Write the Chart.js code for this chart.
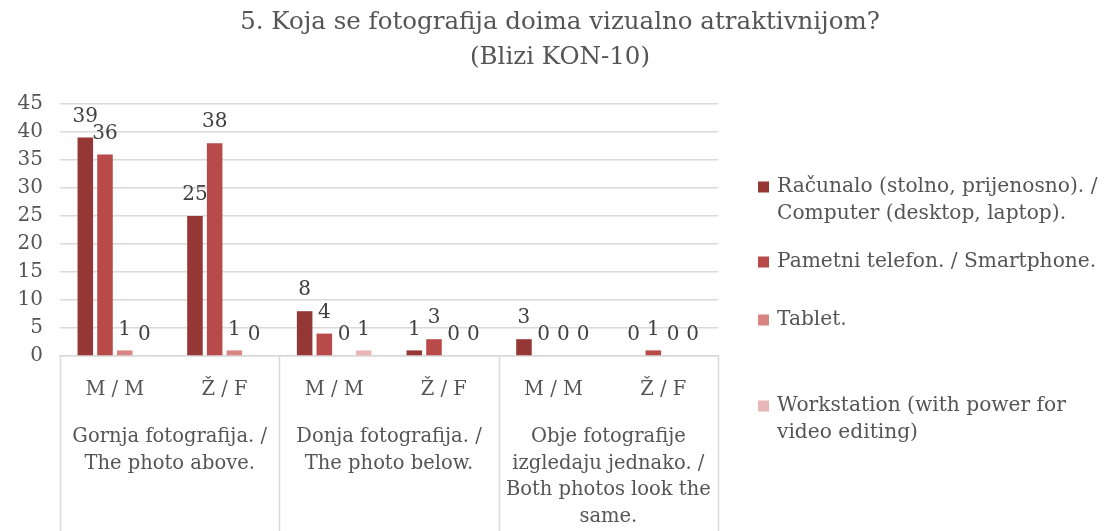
<!DOCTYPE html>
<html>
<head>
<meta charset="utf-8">
<script src="https://cdn.jsdelivr.net/npm/chart.js@4/dist/chart.umd.min.js"></script>
<style>
  html, body { margin: 0; padding: 0; background: #ffffff; }
  #wrap { width: 1105px; height: 531px; position: relative; }
</style>
</head>
<body>
<div id="wrap"><canvas id="c" width="1105" height="531"></canvas></div>
<script>
// Chart content
const titleLines = ['5. Koja se fotografija doima vizualno atraktivnijom?', '(Blizi KON-10)'];
const categories = ['M / M', 'Ž / F', 'M / M', 'Ž / F', 'M / M', 'Ž / F'];
const groupLabels = [
  ['Gornja fotografija. /', 'The photo above.'],
  ['Donja fotografija. /', 'The photo below.'],
  ['Obje fotografije', 'izgledaju jednako. /', 'Both photos look the', 'same.']
];
const seriesNames = [
  ['Računalo (stolno, prijenosno). /', 'Computer (desktop, laptop).'],
  ['Pametni telefon. / Smartphone.'],
  ['Tablet.'],
  ['Workstation (with power for', 'video editing)']
];
const computer    = [39, 25, 8, 1, 3, 0];
const smartphone  = [36, 38, 4, 3, 0, 1];
const tablet      = [1, 1, 0, 0, 0, 0];
const workstation = [0, 0, 1, 0, 0, 0];
const yMin = 0, yMax = 45, yStep = 5;

const FONT = '"DejaVu Serif", "Liberation Serif", serif';
const TEXT = '#555555';
const GRID = '#d9d9d9';
const colors = ['#953735', '#b84b4a', '#d88583', '#e8b6b6'];

// Title, value labels, grouped category labels and the side legend
const extras = {
  id: 'extras',
  afterDraw(chart) {
    const ctx = chart.ctx;
    const area = chart.chartArea;
    const xs = chart.scales.x;
    ctx.save();

    // title
    ctx.fillStyle = TEXT;
    ctx.font = '24.5px ' + FONT;
    ctx.textAlign = 'center';
    ctx.textBaseline = 'middle';
    ctx.fillText(titleLines[0], 560, 23);
    ctx.fillText(titleLines[1], 560, 58);

    // value labels above each bar
    ctx.font = '20px ' + FONT;
    ctx.fillStyle = '#404040';
    chart.data.datasets.forEach((ds, di) => {
      const meta = chart.getDatasetMeta(di);
      meta.data.forEach((bar, i) => {
        ctx.fillText(String(ds.data[i]), bar.x, bar.y - 21);
      });
    });

    // group separators and group captions
    const n = categories.length;
    const step = (area.right - area.left) / n;
    ctx.strokeStyle = GRID;
    ctx.lineWidth = 1.5;
    for (let g = 0; g <= groupLabels.length; g++) {
      const x = Math.round(area.left + g * 2 * step) + 0.5;
      ctx.beginPath();
      ctx.moveTo(x, area.bottom);
      ctx.lineTo(x, chart.height);
      ctx.stroke();
    }
    ctx.fillStyle = TEXT;
    ctx.font = '19.5px ' + FONT;
    groupLabels.forEach((lines, g) => {
      const cx = (xs.getPixelForValue(2 * g) + xs.getPixelForValue(2 * g + 1)) / 2;
      lines.forEach((t, li) => ctx.fillText(t, cx, 437 + li * 26.7));
    });

    // legend
    const starts = [187, 262, 320, 406];
    ctx.textAlign = 'left';
    ctx.font = '20.2px ' + FONT;
    seriesNames.forEach((lines, si) => {
      const y0 = starts[si];
      ctx.fillStyle = colors[si];
      ctx.fillRect(758, y0 - 5.5, 11, 11);
      ctx.fillStyle = TEXT;
      lines.forEach((t, li) => ctx.fillText(t, 777, y0 + li * 27));
    });
    ctx.restore();
  }
};

const datasets = [computer, smartphone, tablet, workstation].map((d, i) => ({
  label: seriesNames[i].join(' '),
  data: d,
  backgroundColor: colors[i],
  borderWidth: 0,
  categoryPercentage: 0.718,
  barPercentage: 0.79
}));

new Chart(document.getElementById('c'), {
  type: 'bar',
  data: { labels: categories, datasets },
  options: {
    responsive: false,
    animation: false,
    devicePixelRatio: 1,
    layout: { padding: { top: 104, right: 387, bottom: 0, left: 0 } },
    plugins: { legend: { display: false }, title: { display: false }, tooltip: { enabled: false } },
    scales: {
      x: {
        grid: { display: false, drawTicks: false },
        border: { display: true, color: GRID, width: 1.5 },
        ticks: { color: TEXT, font: { family: FONT, size: 19.5 }, padding: 22, maxRotation: 0 },
        afterFit(s) { s.height = 175; }
      },
      y: {
        min: yMin, max: yMax,
        grid: { color: GRID, lineWidth: 1.5, drawTicks: false },
        border: { display: false },
        ticks: { stepSize: yStep, color: TEXT, font: { family: FONT, size: 20 }, padding: 17 },
        afterFit(s) { s.width = 60; }
      }
    }
  },
  plugins: [extras]
});
</script>
</body>
</html>
